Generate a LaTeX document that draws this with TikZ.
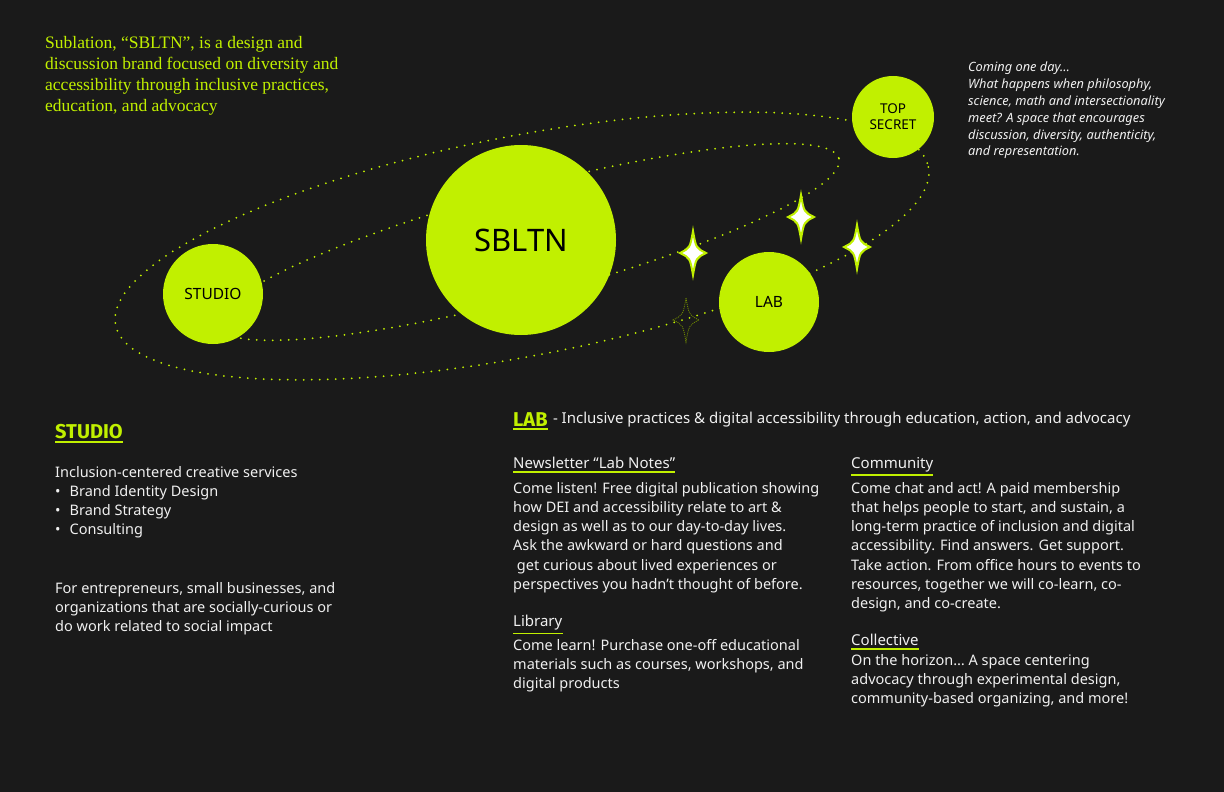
\documentclass[tikz,border=0pt]{standalone}
\usepackage{fontspec}
\setmainfont{Noto Sans}
\newfontfamily\serifface{Liberation Serif}
\newfontfamily\headface{Fira Sans}
\usetikzlibrary{positioning}
\definecolor{my_dark}{RGB}{26, 26, 26}
\definecolor{my_lime}{RGB}{193, 240, 0}
\definecolor{my_text}{RGB}{240, 240, 240}
\tikzset {
  planet/.style = {circle, fill=my_lime, text=black, inner sep=0pt, font=\fontsize{15.5}{17}\selectfont},
  orbit/.style = {my_lime, line width=2pt, dash pattern=on 0pt off 8pt, line cap=round},
  para/.style = {anchor=north west, inner sep=0pt, text=my_text, align=left, font=\fontsize{14.5}{19.2}\selectfont},
  heading/.style = {anchor=north west, inner sep=0pt, text=my_text, font=\fontsize{15}{19}\selectfont},
  title/.style = {heading, text=my_lime, font=\headface\bfseries\fontsize{20}{22}\selectfont},
  sparkle/.pic = {\path[pic actions] (0,-22) .. controls (3,-5) .. (13,0) .. controls (3,5) .. (0,22) .. controls (-3,5) .. (-13,0) .. controls (-3,-5) .. cycle;}
}
\newcommand{\uline}[1]{\draw[my_lime, line width=1.6pt] ([yshift=-3pt]#1.south west) -- ([yshift=-3pt]#1.south east);}

\begin{document}
\begin{tikzpicture}[x=1pt, y=-1pt]
    \fill[my_dark] (0,0) rectangle (1224,792);
    \useasboundingbox (0,0) rectangle (1224,792);

    % orbits
    \draw[orbit, rotate around={11:(522,246)}] (522,246) ellipse [x radius=414, y radius=110];
    \draw[orbit, rotate around={15:(528,242)}] (528,242) ellipse [x radius=322, y radius=54];

    % planets
    \node[planet, minimum size=100pt] (studio) at (213,294) {STUDIO};
    \node[planet, minimum size=190pt, font=\fontsize{31}{34}\selectfont] (sbltn) at (521,240) {SBLTN};
    \node[planet, minimum size=100pt] (lab) at (769,302) {LAB};
    \node[planet, minimum size=82pt, align=center, font=\fontsize{13.5}{16}\selectfont] (secret) at (893,117) {TOP\\SECRET};

    % sparkles
    \pic[fill=white, draw=my_lime, line width=2pt] at (693,253) {sparkle};
    \pic[fill=white, draw=my_lime, line width=2pt] at (801,217) {sparkle};
    \pic[fill=white, draw=my_lime, line width=2pt] at (857,247) {sparkle};
    \pic[draw=my_lime!60!black, line width=0.8pt, dash pattern=on 1pt off 1pt] at (686,320) {sparkle};

    % intro texts
    \node[para, text=my_lime, font=\serifface\fontsize{17.5}{21}\selectfont] (intro) at (45,36)
      {Sublation, “SBLTN”, is a design and\\discussion brand focused on diversity and\\accessibility through inclusive practices,\\education, and advocacy};
    \node[para, font=\itshape\fontsize{12.8}{16.8}\selectfont] (teaser) at (968,62)
      {Coming one day…\\What happens when philosophy,\\science, math and intersectionality\\meet? A space that encourages\\discussion, diversity, authenticity,\\and representation.};

    % studio column
    \node[title] (studiohead) at (55,424) {STUDIO};
    \uline{studiohead}
    \node[para] (studiotext) at (55,466)
      {Inclusion-centered creative services\\
       \textbullet\hspace{9pt}Brand Identity Design\\
       \textbullet\hspace{9pt}Brand Strategy\\
       \textbullet\hspace{9pt}Consulting};
    \node[para] (studiofor) at (55,582)
      {For entrepreneurs, small businesses, and\\organizations that are socially-curious or\\do work related to social impact};

    % lab column
    \node[title] (labhead) at (513,412) {LAB};
    \uline{labhead}
    \node[heading, right=5pt of labhead.east, anchor=west] (labsub)
      {- Inclusive practices \& digital accessibility through education, action, and advocacy};

    \node[heading] (newshead) at (513,457) {Newsletter “Lab Notes”};
    \uline{newshead}
    \node[para] (newstext) at (513,482)
      {Come listen! Free digital publication showing\\how DEI and accessibility relate to art \&\\design as well as to our day-to-day lives.\\Ask the awkward or hard questions and\\\ get curious about lived experiences or\\perspectives you hadn’t thought of before.};

    \node[heading] (libhead) at (513,615) {Library};
    \uline{libhead}
    \node[para] (libtext) at (513,639)
      {Come learn! Purchase one-off educational\\materials such as courses, workshops, and\\digital products};

    \node[heading] (commhead) at (851,457) {Community};
    \uline{commhead}
    \node[para] (commtext) at (851,482)
      {Come chat and act! A paid membership\\that helps people to start, and sustain, a\\long-term practice of inclusion and digital\\accessibility. Find answers. Get support.\\Take action. From office hours to events to\\resources, together we will co-learn, co-\\design, and co-create.};

    \node[heading] (collhead) at (851,634) {Collective};
    \uline{collhead}
    \node[para] (colltext) at (851,654)
      {On the horizon… A space centering\\advocacy through experimental design,\\community-based organizing, and more!};
\end{tikzpicture}
\end{document}
